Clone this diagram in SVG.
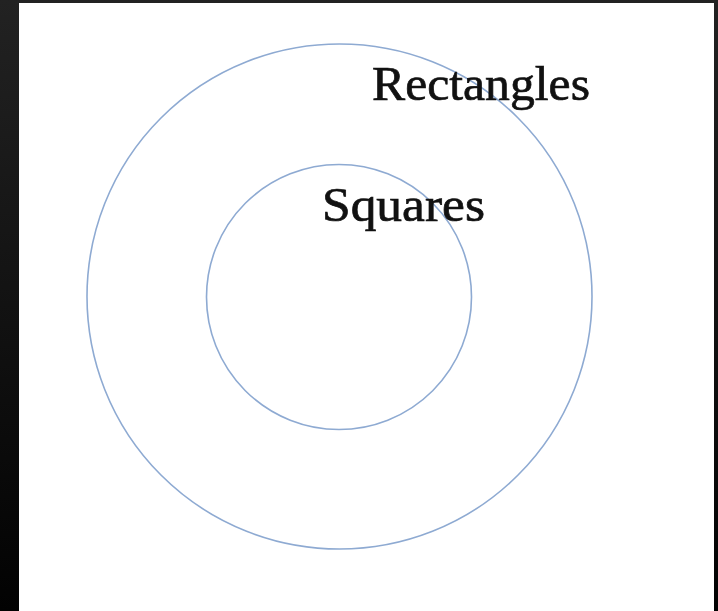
<svg xmlns="http://www.w3.org/2000/svg" width="718" height="611" viewBox="0 0 718 611">
<defs>
<linearGradient id="bg" x1="0" y1="0" x2="0" y2="1">
<stop offset="0" stop-color="#222222"/>
<stop offset="1" stop-color="#020202"/>
</linearGradient>
</defs>
<style>
.ring{fill:none;stroke:#8eaad2;stroke-width:1.6}
.lbl{font-family:"Liberation Serif","Times New Roman",serif;font-size:49px;fill:#111111;stroke:#111111;stroke-width:0.7}
</style>
<rect x="0" y="0" width="718" height="611" fill="url(#bg)"/>
<rect x="19" y="3" width="695" height="608" fill="#ffffff"/>
<g id="rectangles">
<circle class="ring" cx="339.5" cy="296.5" r="252.5"/>
<text class="lbl" x="372" y="100" textLength="218" lengthAdjust="spacingAndGlyphs">Rectangles</text>
</g>
<g id="squares">
<circle class="ring" cx="339" cy="297" r="132.5"/>
<text class="lbl" x="322" y="221" textLength="163" lengthAdjust="spacingAndGlyphs">Squares</text>
</g>
<g id="connectors"></g>
</svg>
